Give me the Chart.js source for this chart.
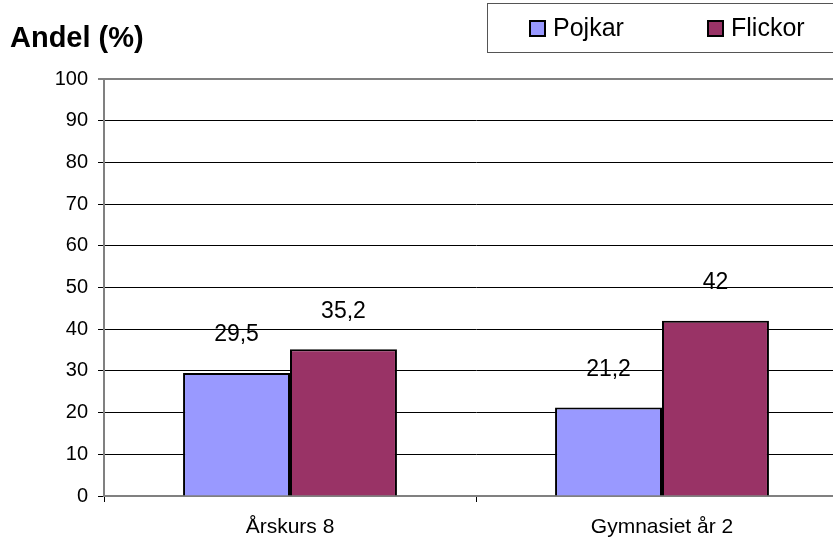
<!DOCTYPE html>
<html>
<head>
<meta charset="utf-8">
<script src="https://cdn.jsdelivr.net/npm/chart.js@4/dist/chart.umd.min.js"></script>
<style>
  body { margin: 0; background: #fff; }
  #wrap { width: 833px; height: 540px; overflow: hidden; position: relative; }
</style>
</head>
<body>
<div id="wrap"><canvas id="bar-chart" width="848" height="540"></canvas></div>
<script>
// Andel (%) per årskurs
var kategorier = ['Årskurs 8', 'Gymnasiet år 2'];
var pojkar = [29.5, 21.2];
var flickor = [35.2, 42];
var yTicks = [0, 10, 20, 30, 40, 50, 60, 70, 80, 90, 100];

var fontFamily = 'Arial, "Liberation Sans", sans-serif';

// etiketter ovanför staplarna, med decimalkomma
var etiketter = {
  id: 'etiketter',
  afterDatasetsDraw: function (chart) {
    var ctx = chart.ctx;
    ctx.save();
    ctx.fillStyle = '#000';
    ctx.font = '23px ' + fontFamily;
    ctx.textAlign = 'center';
    ctx.textBaseline = 'middle';
    chart.data.datasets.forEach(function (ds, i) {
      chart.getDatasetMeta(i).data.forEach(function (bar, j) {
        var txt = String(ds.data[j]).replace('.', ',');
        ctx.fillText(txt, bar.x, bar.y - 38);
      });
    });
    ctx.restore();
  }
};

// egen förklaring i ruta uppe till höger, plus rubrik
var forklaring = {
  id: 'forklaring',
  afterDraw: function (chart) {
    var ctx = chart.ctx;
    ctx.save();
    ctx.strokeStyle = '#555';
    ctx.lineWidth = 1;
    ctx.strokeRect(487.5, 3.5, 370, 49);
    var pos = [530, 708];
    ctx.font = '25px ' + fontFamily;
    ctx.textBaseline = 'middle';
    ctx.textAlign = 'left';
    chart.data.datasets.forEach(function (ds, i) {
      ctx.fillStyle = ds.backgroundColor;
      ctx.fillRect(pos[i], 21, 15, 15);
      ctx.strokeStyle = '#000';
      ctx.lineWidth = 2;
      ctx.strokeRect(pos[i], 21, 15, 15);
      ctx.fillStyle = '#000';
      ctx.fillText(ds.label, pos[i] + 23, 29);
    });
    // rubrik
    ctx.font = 'bold 29px ' + fontFamily;
    ctx.textBaseline = 'alphabetic';
    ctx.fillText('Andel (%)', 10, 47);
    ctx.restore();
  }
};

var ctx = document.getElementById('bar-chart').getContext('2d');
var chart = new Chart(ctx, {
  type: 'bar',
  data: {
    labels: kategorier,
    datasets: [
      {
        label: 'Pojkar',
        data: pojkar,
        backgroundColor: '#9999FF',
        borderColor: '#000',
        borderWidth: 2
      },
      {
        label: 'Flickor',
        data: flickor,
        backgroundColor: '#993366',
        borderColor: '#000',
        borderWidth: 2
      }
    ]
  },
  options: {
    responsive: false,
    animation: false,
    layout: { padding: { top: 79, left: 0, right: 0, bottom: 0 } },
    categoryPercentage: 0.575,
    barPercentage: 1,
    plugins: {
      legend: { display: false },
      tooltip: { enabled: false }
    },
    scales: {
      y: {
        min: 0,
        max: 100,
        afterBuildTicks: function (axis) {
          axis.ticks = yTicks.map(function (v) { return { value: v }; });
        },
        afterFit: function (axis) { axis.width = 104; },
        ticks: {
          color: '#000',
          font: { family: fontFamily, size: 20 },
          padding: 10
        },
        grid: {
          color: function (c) { return c.tick && c.tick.value === 100 ? '#808080' : '#000'; },
          lineWidth: function (c) { return c.tick && c.tick.value === 100 ? 2 : 1; },
          tickLength: 6
        },
        border: { color: '#808080', width: 2 }
      },
      x: {
        afterFit: function (axis) { axis.height = 44; },
        ticks: {
          color: '#000',
          font: { family: fontFamily, size: 21 },
          padding: 13
        },
        grid: { drawOnChartArea: false, color: '#000', tickLength: 6 },
        border: { color: '#808080', width: 2 }
      }
    }
  },
  plugins: [etiketter, forklaring]
});
</script>
</body>
</html>
